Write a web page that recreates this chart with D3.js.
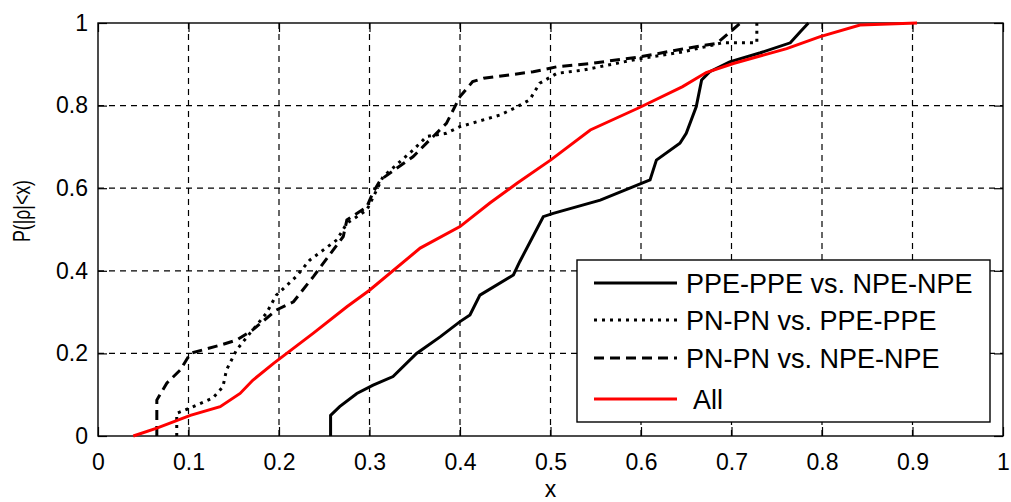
<!DOCTYPE html>
<html>
<head>
<meta charset="utf-8">
<script src="https://cdn.jsdelivr.net/npm/d3@7"></script>
<style>
  body { margin: 0; background: #fff; }
  text { font-family: "Liberation Sans", Arial, sans-serif; fill: #000; }
</style>
</head>
<body>
<svg width="1011" height="502"></svg>
<script>
const ppeVsNpe = [[0.257,0],[0.257,0.05],[0.267,0.071],[0.286,0.103],[0.304,0.123],[0.326,0.144],
  [0.352,0.2],[0.378,0.24],[0.4,0.277],[0.411,0.293],[0.422,0.341],[0.459,0.39],[0.466,0.422],
  [0.492,0.531],[0.503,0.539],[0.555,0.571],[0.61,0.62],[0.617,0.668],[0.643,0.709],[0.65,0.733],
  [0.661,0.797],[0.667,0.862],[0.676,0.882],[0.698,0.906],[0.732,0.928],[0.765,0.952],[0.776,0.979],[0.785,1.0]];

const pnVsPpe = [[0.087,0],[0.087,0.055],[0.102,0.068],[0.127,0.092],[0.138,0.119],[0.142,0.16],
  [0.153,0.208],[0.168,0.249],[0.186,0.297],[0.197,0.341],[0.219,0.386],[0.234,0.426],[0.264,0.475],
  [0.275,0.515],[0.297,0.547],[0.308,0.596],[0.315,0.628],[0.348,0.692],[0.363,0.725],[0.385,0.733],
  [0.4,0.749],[0.444,0.777],[0.463,0.797],[0.477,0.814],[0.488,0.854],[0.507,0.878],[0.536,0.886],
  [0.595,0.912],[0.646,0.93],[0.69,0.952],[0.728,0.952],[0.728,1.0]];

const pnVsNpe = [[0.065,0],[0.065,0.087],[0.076,0.128],[0.091,0.16],[0.102,0.2],[0.135,0.22],
  [0.153,0.232],[0.171,0.257],[0.197,0.305],[0.216,0.325],[0.238,0.386],[0.271,0.483],[0.275,0.523],
  [0.297,0.555],[0.304,0.59],[0.312,0.62],[0.348,0.676],[0.363,0.709],[0.385,0.757],[0.4,0.822],
  [0.414,0.858],[0.426,0.866],[0.481,0.882],[0.507,0.894],[0.544,0.902],[0.599,0.918],[0.646,0.937],
  [0.684,0.951],[0.71,1.0]];

const allPairs = [[0.039,0],[0.065,0.019],[0.102,0.05],[0.135,0.071],[0.157,0.103],[0.171,0.135],
  [0.194,0.176],[0.238,0.249],[0.275,0.313],[0.3,0.353],[0.356,0.455],[0.4,0.507],[0.433,0.564],
  [0.463,0.612],[0.5,0.668],[0.544,0.741],[0.599,0.796],[0.646,0.846],[0.672,0.88],[0.702,0.902],
  [0.761,0.938],[0.798,0.967],[0.842,0.995],[0.905,1.0]];

const xTicks = [0, 0.1, 0.2, 0.3, 0.4, 0.5, 0.6, 0.7, 0.8, 0.9, 1];
const yTicks = [0, 0.2, 0.4, 0.6, 0.8, 1];
const seriesNames = ["PPE-PPE vs. NPE-NPE", "PN-PN vs. PPE-PPE", "PN-PN vs. NPE-NPE", "All"];

let svg = d3.select('svg');
let margin = { top: 23, bottom: 66, left: 98, right: 8 };
let width = +svg.attr('width');
let height = +svg.attr('height');

let x = d3.scaleLinear().domain([0, 1]).range([margin.left, width - margin.right]);
let y = d3.scaleLinear().domain([0, 1]).range([height - margin.bottom, margin.top]);

// dashed grid
svg.append("g")
  .selectAll("line")
  .data(xTicks.slice(1, -1))
  .enter().append("line")
    .attr("x1", d => x(d)).attr("x2", d => x(d))
    .attr("y1", y(0)).attr("y2", y(1))
    .attr("stroke", "#000").attr("stroke-width", 1.2)
    .attr("stroke-dasharray", "6,5");
svg.append("g")
  .selectAll("line")
  .data(yTicks.slice(1, -1))
  .enter().append("line")
    .attr("x1", x(0)).attr("x2", x(1))
    .attr("y1", d => y(d)).attr("y2", d => y(d))
    .attr("stroke", "#000").attr("stroke-width", 1.2)
    .attr("stroke-dasharray", "6,5");

// axes, ticks pointing inward on all four sides
let tickLen = 9;
let xAxis = g => g
  .attr("transform", `translate(0,${y(0)})`)
  .call(d3.axisBottom(x).tickValues(xTicks).tickFormat(d3.format("")).tickSizeInner(-tickLen).tickSizeOuter(0).tickPadding(18));
let yAxis = g => g
  .attr("transform", `translate(${x(0)},0)`)
  .call(d3.axisLeft(y).tickValues(yTicks).tickFormat(d3.format("")).tickSizeInner(-tickLen).tickSizeOuter(0).tickPadding(10));
let xTop = g => g
  .attr("transform", `translate(0,${y(1)})`)
  .call(d3.axisTop(x).tickValues(xTicks).tickFormat("").tickSizeInner(-tickLen).tickSizeOuter(0));
let yRight = g => g
  .attr("transform", `translate(${x(1)},0)`)
  .call(d3.axisRight(y).tickValues(yTicks).tickFormat("").tickSizeInner(-tickLen).tickSizeOuter(0));

[xAxis, yAxis, xTop, yRight].forEach(ax => {
  svg.append("g").call(ax)
    .call(g => g.select(".domain").remove())
    .call(g => g.selectAll("line").attr("stroke", "#000").attr("stroke-width", 1.2))
    .call(g => g.selectAll("text").attr("font-size", 23).attr("font-family", "Liberation Sans, Arial, sans-serif"));
});

svg.append("rect")
  .attr("x", x(0)).attr("y", y(1))
  .attr("width", x(1) - x(0)).attr("height", y(0) - y(1))
  .attr("fill", "none").attr("stroke", "#000").attr("stroke-width", 1.4);

// curves
let line = d3.line()
  .x(d => x(d[0]))
  .y(d => y(d[1]));

let styles = [
  { data: ppeVsNpe, color: "#000", dash: null },
  { data: pnVsPpe, color: "#000", dash: "3,5" },
  { data: pnVsNpe, color: "#000", dash: "10,6" },
  { data: allPairs, color: "#ff0000", dash: null }
];

styles.forEach(s => {
  svg.append("path")
    .datum(s.data)
    .attr("fill", "none")
    .attr("stroke", s.color)
    .attr("stroke-width", 3)
    .attr("stroke-dasharray", s.dash)
    .attr("d", line);
});

// axis labels
svg.append("text")
  .attr("x", (x(0) + x(1)) / 2)
  .attr("y", 497)
  .attr("text-anchor", "middle")
  .attr("font-size", 23)
  .text("x");

svg.append("text")
  .attr("transform", `translate(30,211) rotate(-90)`)
  .attr("text-anchor", "middle")
  .attr("font-size", 24)
  .attr("textLength", 62)
  .attr("lengthAdjust", "spacingAndGlyphs")
  .text("P(|ρ|<x)");

// legend
let legend = svg.append("g").attr("class", "legend");
legend.append("rect")
  .attr("x", 577).attr("y", 260)
  .attr("width", 413).attr("height", 162)
  .attr("fill", "#fff").attr("stroke", "#000").attr("stroke-width", 1.4);

let rowY = [283, 320, 358, 399];
styles.forEach((s, i) => {
  legend.append("line")
    .attr("x1", 594).attr("x2", 677)
    .attr("y1", rowY[i]).attr("y2", rowY[i])
    .attr("stroke", s.color)
    .attr("stroke-width", 3)
    .attr("stroke-dasharray", s.dash);
  legend.append("text")
    .attr("x", i === 3 ? 693 : 686)
    .attr("y", rowY[i] + 10)
    .attr("font-size", 27)
    .text(seriesNames[i]);
});
</script>
</body>
</html>
